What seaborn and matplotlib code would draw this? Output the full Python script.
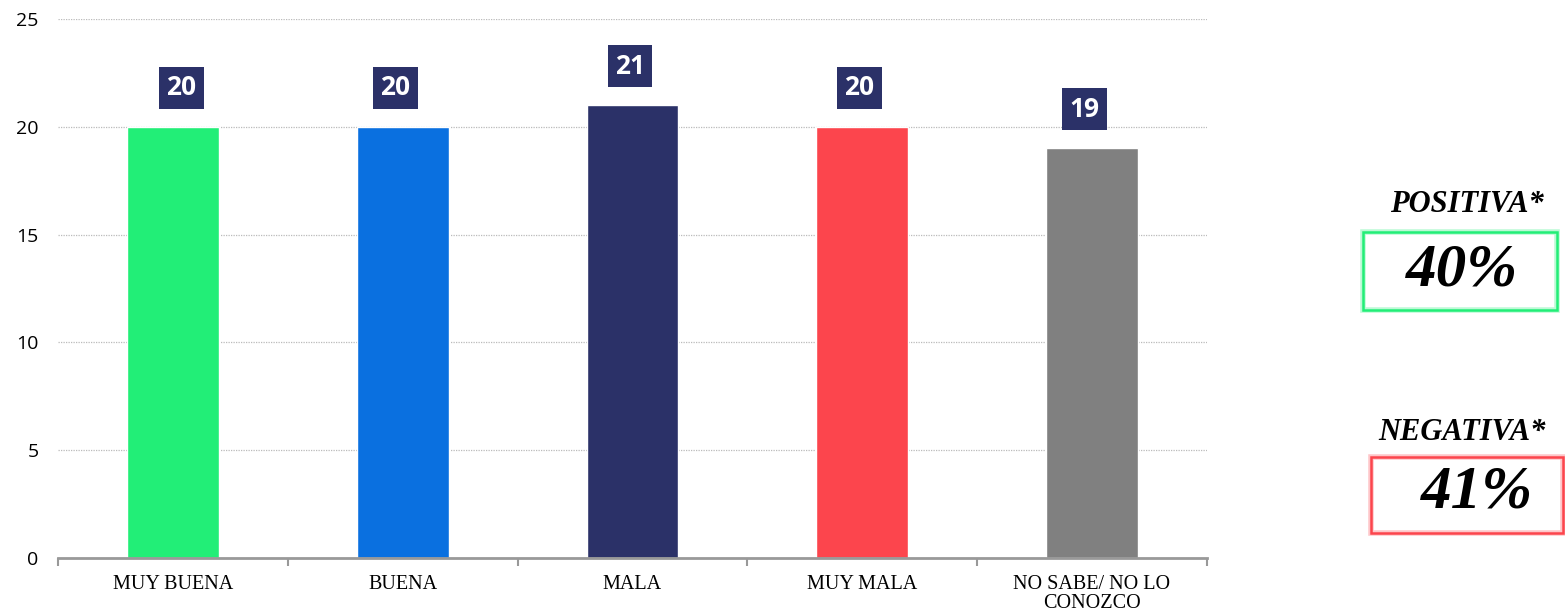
import pandas as pd
import seaborn as sns
import matplotlib.pyplot as plt
from matplotlib.patches import Rectangle

# datos
categorias = ['MUY BUENA', 'BUENA', 'MALA', 'MUY MALA', 'NO SABE/ NO LO\nCONOZCO']
valores = [20, 20, 21, 20, 19]
resumen_titulos = ['POSITIVA*', 'NEGATIVA*']
resumen_valores = ['40%', '41%']

colores = ['#22EE77', '#0A70E0', '#2B3168', '#FC454D', '#808080']
navy = '#2B3168'
# las etiquetas no estan centradas exactamente sobre las barras
desplaz_etiquetas = [8.5, -7.5, -2.5, -3, -7.5]

sns.set_style('white')
plt.rcParams['font.family'] = ['Open Sans', 'DejaVu Sans']
plt.rcParams['text.color'] = 'black'
plt.rcParams['xtick.color'] = 'black'
plt.rcParams['ytick.color'] = 'black'

df = pd.DataFrame({'cat': categorias, 'val': valores})

fig = plt.figure(figsize=(15.65, 6.13), dpi=100)
ax = fig.add_axes([0.0371, 0.0897, 0.7341, 0.8793])

sns.barplot(data=df, x='cat', y='val', hue='cat', palette=colores,
            width=0.4, legend=False, ax=ax, saturation=1)

ax.set_ylim(0, 25)
ax.set_xlim(-0.5, len(categorias) - 0.5)
ax.set_yticks([0, 5, 10, 15, 20, 25])
ax.set_xlabel('')
ax.set_ylabel('')
ax.grid(axis='y', color='#bbbbbb', linestyle=(0, (1, 1)), linewidth=0.9)
ax.set_axisbelow(True)
for s in ['top', 'right', 'left']:
    ax.spines[s].set_visible(False)
ax.spines['bottom'].set_color('#999999')
ax.spines['bottom'].set_linewidth(2)

ax.tick_params(axis='y', length=0, labelsize=14, pad=14)
ax.tick_params(axis='x', which='major', length=0, pad=12)
ax.set_xticks([i - 0.5 for i in range(len(categorias) + 1)], minor=True)
ax.tick_params(axis='x', which='minor', bottom=True, length=6, width=1.5,
               color='#999999')
ax.set_xticks(range(len(categorias)))
ax.set_xticklabels(categorias, family='Liberation Serif', fontsize=14.5,
                   linespacing=1.0)

# etiquetas de valor
for i, v in enumerate(valores):
    ax.annotate(str(v), (i, v), xytext=(desplaz_etiquetas[i], 39),
                textcoords='offset pixels', ha='center', va='center',
                color='white', fontsize=19, fontweight='bold',
                bbox=dict(boxstyle='square,pad=0.28', fc=navy, ec='none'))

# panel derecho
serif = 'Liberation Serif'
fig.text(0.937, 0.666, resumen_titulos[0], ha='center', va='center',
         family=serif, fontsize=22, fontweight='bold', style='italic')
fig.text(0.934, 0.5595, resumen_valores[0], ha='center', va='center',
         family=serif, fontsize=44, fontweight='bold', style='italic')
fig.text(0.934, 0.295, resumen_titulos[1], ha='center', va='center',
         family=serif, fontsize=22, fontweight='bold', style='italic')
fig.text(0.944, 0.197, resumen_valores[1], ha='center', va='center',
         family=serif, fontsize=44, fontweight='bold', style='italic')

for (x0, y0, w, h), col in [((0.871, 0.494, 0.124, 0.127), '#22EE77'),
                            ((0.876, 0.1305, 0.1227, 0.124), '#FC454D')]:
    fig.patches.append(Rectangle((x0, y0), w, h, transform=fig.transFigure,
                                 fill=False, ec=col, lw=4, alpha=0.3))
    fig.patches.append(Rectangle((x0, y0), w, h, transform=fig.transFigure,
                                 fill=False, ec=col, lw=1.8))

plt.savefig('out.png', dpi=100)
